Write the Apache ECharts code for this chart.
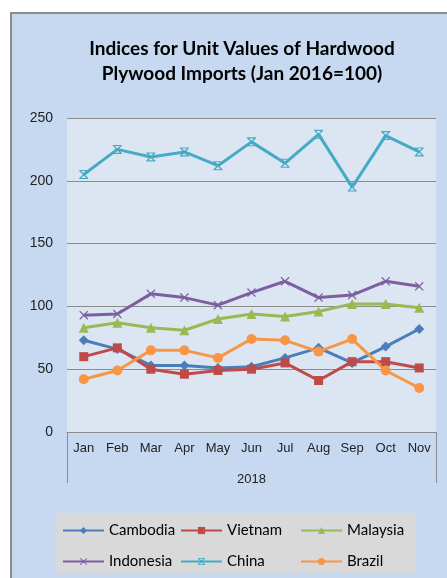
<!DOCTYPE html>
<html>
<head>
<meta charset="utf-8">
<script src="https://cdn.jsdelivr.net/npm/echarts@6/dist/echarts.min.js"></script>
<style>
  html, body { margin: 0; padding: 0; background: #ffffff; }
  #frame {
    position: absolute; left: 10px; top: 12px; width: 440px; height: 570px;
    background: #c6d9f1; border-left: 2px solid #8c8c8c; border-top: 2px solid #8c8c8c;
  }
  #chart { position: absolute; left: 0; top: 0; width: 447px; height: 578px; }
</style>
</head>
<body>
<div id="frame"></div>
<div id="chart"></div>
<script>
var months = ['Jan', 'Feb', 'Mar', 'Apr', 'May', 'Jun', 'Jul', 'Aug', 'Sep', 'Oct', 'Nov'];
var cambodia  = [73, 66, 53, 53, 51, 52, 59, 67, 55, 68, 82];
var vietnam   = [60, 67, 50, 46, 49, 50, 55, 41, 56, 56, 51];
var malaysia  = [83, 87, 83, 81, 90, 94, 92, 96, 102, 102, 99];
var indonesia = [93, 94, 110, 107, 101, 111, 120, 107, 109, 120, 116];
var china     = [205, 225, 219, 223, 212, 231, 214, 237, 195, 236, 223];
var brazil    = [42, 49, 65, 65, 59, 74, 73, 64, 74, 49, 35];

var crossPath = 'path://M1,0 L5,4 L9,0 L10,1 L6,5 L10,9 L9,10 L5,6 L1,10 L0,9 L4,5 L0,1 Z';
var starPath = 'path://M1,0 L5,4 L9,0 L10,1 L6,5 L10,9 L9,10 L5,6 L1,10 L0,9 L4,5 L0,1 Z M0,0 L10,0 L10,1.2 L0,1.2 Z M0,8.8 L10,8.8 L10,10 L0,10 Z';

var myChart = echarts.init(document.getElementById('chart'));

function mkSeries(name, data, color, symbol, size) {
    return {
        name: name,
        type: 'line',
        data: data,
        symbol: symbol,
        symbolSize: size,
        lineStyle: { width: 3, color: color },
        itemStyle: { color: color },
        emphasis: { disabled: true }
    };
}

var legendText = { fontFamily: 'Lato', fontSize: 15, color: '#000' };
function mkLegend(names, left) {
    return {
        data: names, left: left, top: 523, orient: 'vertical', padding: 0,
        itemGap: 16, itemWidth: 41, itemHeight: 9, textStyle: legendText
    };
}

var option = {
    animation: false,
    title: {
        text: 'Indices for Unit Values of Hardwood\nPlywood Imports (Jan 2016=100)',
        left: 237,
        textAlign: 'center',
        top: 31,
        textStyle: {
            fontFamily: 'Lato',
            fontWeight: 'bold',
            fontSize: 19,
            lineHeight: 25,
            color: '#000'
        }
    },
    legend: [
        mkLegend(['Cambodia', 'Indonesia'], 62),
        mkLegend(['Vietnam', 'China'], 180),
        mkLegend(['Malaysia', 'Brazil'], 300)
    ],
    grid: {
        left: 67,
        right: 11,
        top: 118,
        bottom: 146,
        show: true,
        backgroundColor: '#dce6f2',
        borderWidth: 0
    },
    xAxis: {
        type: 'category',
        data: months,
        name: '2018',
        nameLocation: 'middle',
        nameGap: 41,
        nameTextStyle: { fontFamily: 'Liberation Sans', fontSize: 13, color: '#222' },
        axisLine: { lineStyle: { color: '#8c8c8c', width: 1 } },
        axisTick: { show: false },
        axisLabel: { fontFamily: 'Liberation Sans', fontSize: 13, color: '#222', margin: 10, interval: 0 }
    },
    yAxis: {
        type: 'value',
        min: 0,
        max: 250,
        interval: 50,
        axisLine: { show: false },
        axisTick: { show: false },
        splitLine: { lineStyle: { color: '#8c8c8c', width: 1 } },
        axisLabel: { fontFamily: 'Liberation Sans', fontSize: 14, color: '#222', margin: 14 }
    },
    graphic: [
        { type: 'rect', shape: { x: 56, y: 513, width: 359, height: 60 }, style: { fill: '#d9d9d9' }, z: -1 },
        { type: 'line', shape: { x1: 67.5, y1: 432, x2: 67.5, y2: 483 }, style: { stroke: '#8c8c8c', lineWidth: 1 } },
        { type: 'line', shape: { x1: 436.5, y1: 432, x2: 436.5, y2: 483 }, style: { stroke: '#8c8c8c', lineWidth: 1 } }
    ],
    series: [
        mkSeries('Cambodia', cambodia, '#4a7ebb', 'diamond', 10),
        mkSeries('Vietnam', vietnam, '#be4b48', 'rect', 9),
        mkSeries('Malaysia', malaysia, '#98b954', 'triangle', 10),
        mkSeries('Indonesia', indonesia, '#7d5fa0', crossPath, 9),
        mkSeries('China', china, '#46aac5', starPath, 9),
        mkSeries('Brazil', brazil, '#f79646', 'circle', 10)
    ]
};
myChart.setOption(option);
</script>
</body>
</html>
